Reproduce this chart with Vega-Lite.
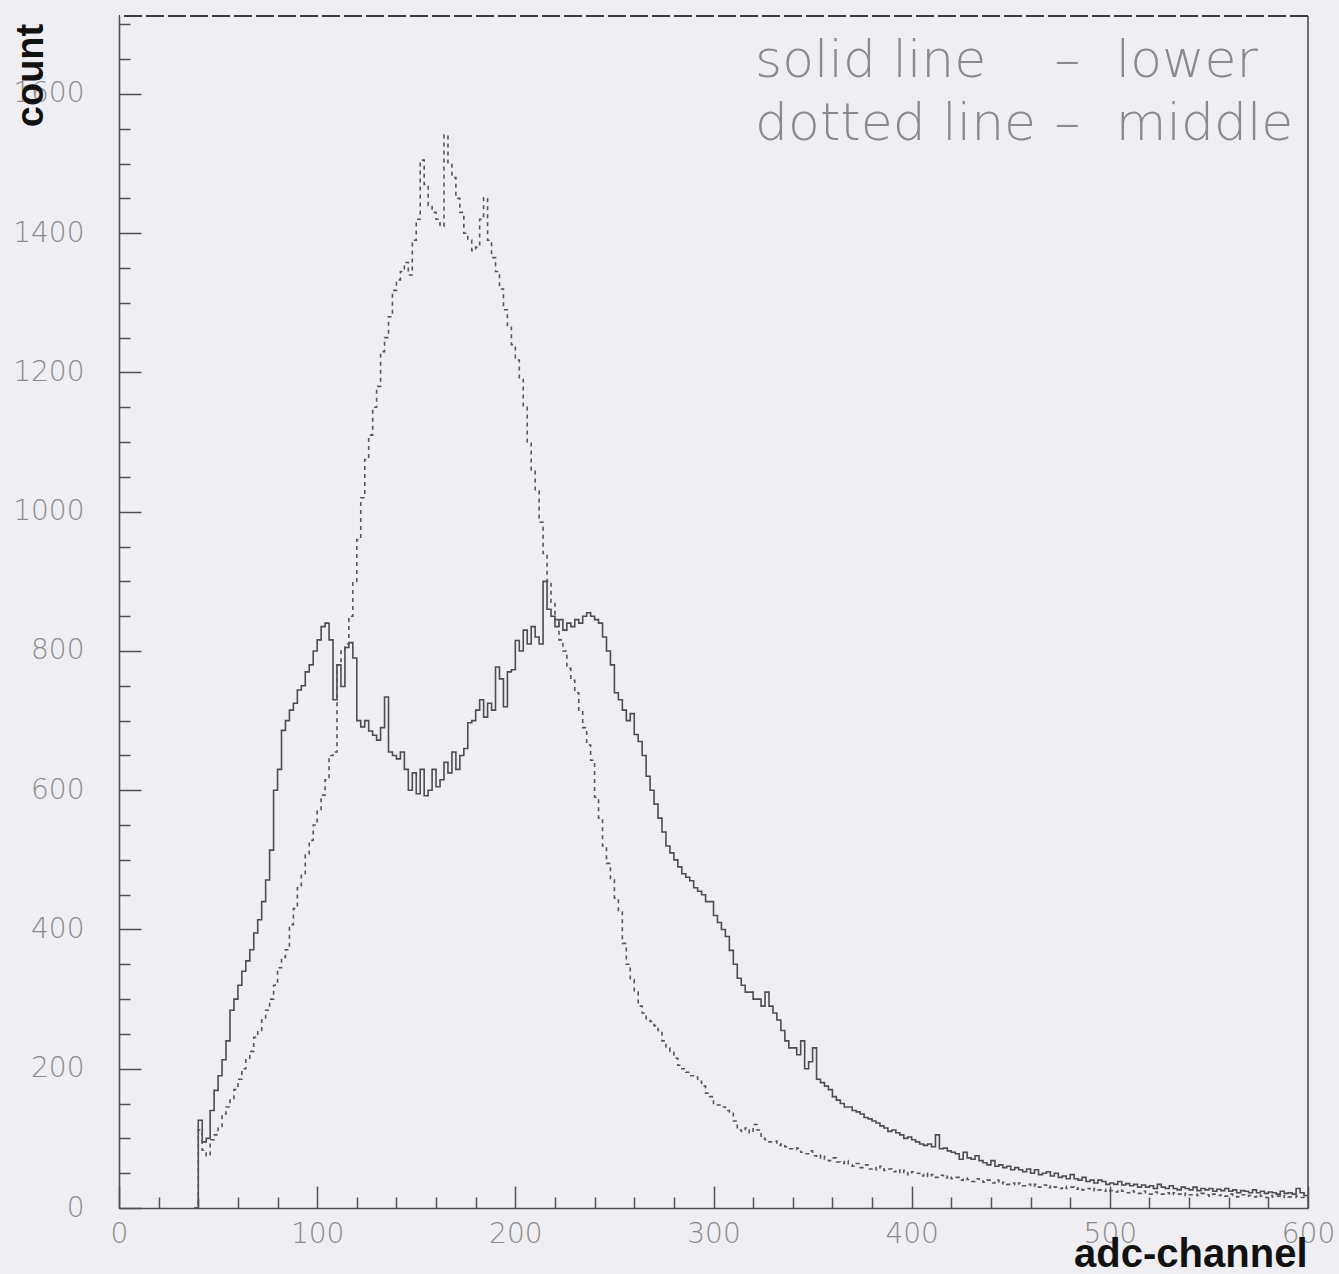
{
  "$schema": "https://vega.github.io/schema/vega-lite/v6.json",
  "width": 1189,
  "height": 1192,
  "autosize": "none",
  "padding": {"left": 119, "top": 16, "right": 31, "bottom": 66},
  "background": "#efeef3",
  "config": {
    "view": {"stroke": null},
    "axis": {
      "grid": false,
      "domainColor": "#505050",
      "domainWidth": 1.6,
      "tickColor": "#505050",
      "tickWidth": 1.5,
      "labelFont": "DejaVu Sans",
      "labelFontWeight": 200,
      "labelFontSize": 28,
      "labelColor": "#8a8a8a",
      "labelOverlap": false,
      "labelBound": false,
      "labelFlush": false,
      "titleFont": "Liberation Sans",
      "titleFontWeight": "bold",
      "titleColor": "#111111"
    }
  },
  "datasets": {
    "one": [{"k": 1}],
    "lower": [
      {"c":38,"n":0},{"c":40,"n":126},{"c":42,"n":95},{"c":44,"n":100},{"c":46,"n":140},{"c":48,"n":169},{"c":50,"n":190},{"c":52,"n":213},{"c":54,"n":240},{"c":56,"n":284},{"c":58,"n":300},{"c":60,"n":320},{"c":62,"n":340},{"c":64,"n":355},{"c":66,"n":371},{"c":68,"n":395},{"c":70,"n":414},{"c":72,"n":440},{"c":74,"n":471},{"c":76,"n":514},{"c":78,"n":600},{"c":80,"n":630},{"c":82,"n":686},{"c":84,"n":700},{"c":86,"n":715},{"c":88,"n":725},{"c":90,"n":744},{"c":92,"n":750},{"c":94,"n":770},{"c":96,"n":780},{"c":98,"n":800},{"c":100,"n":816},{"c":102,"n":835},{"c":104,"n":840},{"c":106,"n":816},{"c":108,"n":730},{"c":110,"n":780},{"c":112,"n":749},{"c":114,"n":805},{"c":116,"n":812},{"c":118,"n":790},{"c":120,"n":700},{"c":122,"n":691},{"c":124,"n":700},{"c":126,"n":685},{"c":128,"n":679},{"c":130,"n":672},{"c":132,"n":690},{"c":134,"n":734},{"c":136,"n":655},{"c":138,"n":650},{"c":140,"n":645},{"c":142,"n":655},{"c":144,"n":630},{"c":146,"n":600},{"c":148,"n":625},{"c":150,"n":595},{"c":152,"n":630},{"c":154,"n":592},{"c":156,"n":600},{"c":158,"n":630},{"c":160,"n":605},{"c":162,"n":615},{"c":164,"n":640},{"c":166,"n":625},{"c":168,"n":655},{"c":170,"n":630},{"c":172,"n":650},{"c":174,"n":660},{"c":176,"n":697},{"c":178,"n":700},{"c":180,"n":715},{"c":182,"n":730},{"c":184,"n":705},{"c":186,"n":725},{"c":188,"n":715},{"c":190,"n":777},{"c":192,"n":760},{"c":194,"n":720},{"c":196,"n":770},{"c":198,"n":773},{"c":200,"n":815},{"c":202,"n":800},{"c":204,"n":830},{"c":206,"n":810},{"c":208,"n":835},{"c":210,"n":820},{"c":212,"n":810},{"c":214,"n":900},{"c":216,"n":860},{"c":218,"n":850},{"c":220,"n":835},{"c":222,"n":845},{"c":224,"n":830},{"c":226,"n":840},{"c":228,"n":835},{"c":230,"n":845},{"c":232,"n":840},{"c":234,"n":850},{"c":236,"n":855},{"c":238,"n":850},{"c":240,"n":845},{"c":242,"n":840},{"c":244,"n":820},{"c":246,"n":800},{"c":248,"n":780},{"c":250,"n":740},{"c":252,"n":730},{"c":254,"n":715},{"c":256,"n":700},{"c":258,"n":710},{"c":260,"n":680},{"c":262,"n":670},{"c":264,"n":650},{"c":266,"n":620},{"c":268,"n":600},{"c":270,"n":580},{"c":272,"n":560},{"c":274,"n":540},{"c":276,"n":520},{"c":278,"n":510},{"c":280,"n":500},{"c":282,"n":490},{"c":284,"n":480},{"c":286,"n":475},{"c":288,"n":470},{"c":290,"n":460},{"c":292,"n":455},{"c":294,"n":450},{"c":296,"n":440},{"c":298,"n":440},{"c":300,"n":420},{"c":302,"n":410},{"c":304,"n":400},{"c":306,"n":390},{"c":308,"n":370},{"c":310,"n":350},{"c":312,"n":330},{"c":314,"n":320},{"c":316,"n":310},{"c":318,"n":310},{"c":320,"n":300},{"c":322,"n":300},{"c":324,"n":290},{"c":326,"n":310},{"c":328,"n":290},{"c":330,"n":280},{"c":332,"n":270},{"c":334,"n":255},{"c":336,"n":240},{"c":338,"n":230},{"c":340,"n":230},{"c":342,"n":220},{"c":344,"n":240},{"c":346,"n":200},{"c":348,"n":210},{"c":350,"n":230},{"c":352,"n":185},{"c":354,"n":180},{"c":356,"n":175},{"c":358,"n":170},{"c":360,"n":160},{"c":362,"n":155},{"c":364,"n":150},{"c":366,"n":145},{"c":368,"n":145},{"c":370,"n":140},{"c":372,"n":138},{"c":374,"n":135},{"c":376,"n":130},{"c":378,"n":128},{"c":380,"n":125},{"c":382,"n":122},{"c":384,"n":118},{"c":386,"n":115},{"c":388,"n":110},{"c":390,"n":112},{"c":392,"n":108},{"c":394,"n":105},{"c":396,"n":100},{"c":398,"n":102},{"c":400,"n":98},{"c":402,"n":95},{"c":404,"n":92},{"c":406,"n":90},{"c":408,"n":92},{"c":410,"n":88},{"c":412,"n":105},{"c":414,"n":85},{"c":416,"n":86},{"c":418,"n":82},{"c":420,"n":80},{"c":422,"n":78},{"c":424,"n":70},{"c":426,"n":80},{"c":428,"n":72},{"c":430,"n":70},{"c":432,"n":75},{"c":434,"n":68},{"c":436,"n":65},{"c":438,"n":62},{"c":440,"n":68},{"c":442,"n":60},{"c":444,"n":62},{"c":446,"n":58},{"c":448,"n":60},{"c":450,"n":55},{"c":452,"n":58},{"c":454,"n":55},{"c":456,"n":52},{"c":458,"n":56},{"c":460,"n":50},{"c":462,"n":55},{"c":464,"n":48},{"c":466,"n":50},{"c":468,"n":52},{"c":470,"n":46},{"c":472,"n":50},{"c":474,"n":44},{"c":476,"n":46},{"c":478,"n":42},{"c":480,"n":48},{"c":482,"n":42},{"c":484,"n":40},{"c":486,"n":44},{"c":488,"n":38},{"c":490,"n":40},{"c":492,"n":36},{"c":494,"n":40},{"c":496,"n":38},{"c":498,"n":34},{"c":500,"n":36},{"c":502,"n":34},{"c":504,"n":38},{"c":506,"n":33},{"c":508,"n":35},{"c":510,"n":32},{"c":512,"n":34},{"c":514,"n":30},{"c":516,"n":33},{"c":518,"n":30},{"c":520,"n":32},{"c":522,"n":28},{"c":524,"n":34},{"c":526,"n":30},{"c":528,"n":28},{"c":530,"n":32},{"c":532,"n":28},{"c":534,"n":26},{"c":536,"n":30},{"c":538,"n":28},{"c":540,"n":26},{"c":542,"n":30},{"c":544,"n":25},{"c":546,"n":28},{"c":548,"n":26},{"c":550,"n":28},{"c":552,"n":24},{"c":554,"n":27},{"c":556,"n":25},{"c":558,"n":28},{"c":560,"n":24},{"c":562,"n":26},{"c":564,"n":22},{"c":566,"n":25},{"c":568,"n":24},{"c":570,"n":22},{"c":572,"n":26},{"c":574,"n":22},{"c":576,"n":24},{"c":578,"n":21},{"c":580,"n":23},{"c":582,"n":22},{"c":584,"n":20},{"c":586,"n":24},{"c":588,"n":21},{"c":590,"n":22},{"c":592,"n":20},{"c":594,"n":28},{"c":596,"n":22},{"c":598,"n":18},{"c":600,"n":18}
    ],
    "middle": [
      {"c":38,"n":0},{"c":40,"n":112},{"c":42,"n":83},{"c":44,"n":75},{"c":46,"n":98},{"c":48,"n":105},{"c":50,"n":115},{"c":52,"n":135},{"c":54,"n":145},{"c":56,"n":155},{"c":58,"n":170},{"c":60,"n":185},{"c":62,"n":200},{"c":64,"n":213},{"c":66,"n":225},{"c":68,"n":245},{"c":70,"n":255},{"c":72,"n":270},{"c":74,"n":284},{"c":76,"n":300},{"c":78,"n":320},{"c":80,"n":345},{"c":82,"n":360},{"c":84,"n":371},{"c":86,"n":407},{"c":88,"n":430},{"c":90,"n":460},{"c":92,"n":480},{"c":94,"n":507},{"c":96,"n":528},{"c":98,"n":550},{"c":100,"n":570},{"c":102,"n":593},{"c":104,"n":615},{"c":106,"n":650},{"c":108,"n":655},{"c":110,"n":780},{"c":112,"n":800},{"c":114,"n":810},{"c":116,"n":850},{"c":118,"n":900},{"c":120,"n":960},{"c":122,"n":1020},{"c":124,"n":1075},{"c":126,"n":1110},{"c":128,"n":1150},{"c":130,"n":1180},{"c":132,"n":1230},{"c":134,"n":1250},{"c":136,"n":1280},{"c":138,"n":1318},{"c":140,"n":1333},{"c":142,"n":1345},{"c":144,"n":1358},{"c":146,"n":1340},{"c":148,"n":1390},{"c":150,"n":1420},{"c":152,"n":1505},{"c":154,"n":1470},{"c":156,"n":1440},{"c":158,"n":1430},{"c":160,"n":1420},{"c":162,"n":1410},{"c":164,"n":1541},{"c":166,"n":1500},{"c":168,"n":1480},{"c":170,"n":1450},{"c":172,"n":1430},{"c":174,"n":1400},{"c":176,"n":1390},{"c":178,"n":1375},{"c":180,"n":1380},{"c":182,"n":1420},{"c":184,"n":1451},{"c":186,"n":1390},{"c":188,"n":1365},{"c":190,"n":1345},{"c":192,"n":1320},{"c":194,"n":1290},{"c":196,"n":1265},{"c":198,"n":1240},{"c":200,"n":1218},{"c":202,"n":1190},{"c":204,"n":1150},{"c":206,"n":1100},{"c":208,"n":1060},{"c":210,"n":1030},{"c":212,"n":985},{"c":214,"n":940},{"c":216,"n":900},{"c":218,"n":870},{"c":220,"n":845},{"c":222,"n":816},{"c":224,"n":800},{"c":226,"n":775},{"c":228,"n":758},{"c":230,"n":740},{"c":232,"n":715},{"c":234,"n":690},{"c":236,"n":665},{"c":238,"n":643},{"c":240,"n":590},{"c":242,"n":560},{"c":244,"n":520},{"c":246,"n":495},{"c":248,"n":471},{"c":250,"n":445},{"c":252,"n":425},{"c":254,"n":380},{"c":256,"n":350},{"c":258,"n":328},{"c":260,"n":310},{"c":262,"n":290},{"c":264,"n":280},{"c":266,"n":272},{"c":268,"n":268},{"c":270,"n":262},{"c":272,"n":255},{"c":274,"n":240},{"c":276,"n":230},{"c":278,"n":225},{"c":280,"n":215},{"c":282,"n":205},{"c":284,"n":200},{"c":286,"n":195},{"c":288,"n":190},{"c":290,"n":188},{"c":292,"n":182},{"c":294,"n":175},{"c":296,"n":165},{"c":298,"n":160},{"c":300,"n":150},{"c":302,"n":148},{"c":304,"n":145},{"c":306,"n":140},{"c":308,"n":138},{"c":310,"n":125},{"c":312,"n":112},{"c":314,"n":110},{"c":316,"n":115},{"c":318,"n":108},{"c":320,"n":120},{"c":322,"n":112},{"c":324,"n":100},{"c":326,"n":98},{"c":328,"n":95},{"c":330,"n":96},{"c":332,"n":90},{"c":334,"n":92},{"c":336,"n":88},{"c":338,"n":85},{"c":340,"n":84},{"c":342,"n":86},{"c":344,"n":80},{"c":346,"n":78},{"c":348,"n":82},{"c":350,"n":75},{"c":352,"n":72},{"c":354,"n":76},{"c":356,"n":70},{"c":358,"n":68},{"c":360,"n":72},{"c":362,"n":66},{"c":364,"n":64},{"c":366,"n":68},{"c":368,"n":62},{"c":370,"n":60},{"c":372,"n":64},{"c":374,"n":58},{"c":376,"n":62},{"c":378,"n":56},{"c":380,"n":58},{"c":382,"n":55},{"c":384,"n":60},{"c":386,"n":54},{"c":388,"n":56},{"c":390,"n":52},{"c":392,"n":55},{"c":394,"n":50},{"c":396,"n":54},{"c":398,"n":48},{"c":400,"n":52},{"c":402,"n":50},{"c":404,"n":46},{"c":406,"n":50},{"c":408,"n":45},{"c":410,"n":48},{"c":412,"n":44},{"c":414,"n":47},{"c":416,"n":43},{"c":418,"n":46},{"c":420,"n":42},{"c":422,"n":44},{"c":424,"n":40},{"c":426,"n":43},{"c":428,"n":41},{"c":430,"n":38},{"c":432,"n":42},{"c":434,"n":39},{"c":436,"n":37},{"c":438,"n":40},{"c":440,"n":36},{"c":442,"n":40},{"c":444,"n":35},{"c":446,"n":37},{"c":448,"n":34},{"c":450,"n":36},{"c":452,"n":33},{"c":454,"n":36},{"c":456,"n":32},{"c":458,"n":34},{"c":460,"n":31},{"c":462,"n":34},{"c":464,"n":30},{"c":466,"n":33},{"c":468,"n":29},{"c":470,"n":32},{"c":472,"n":30},{"c":474,"n":28},{"c":476,"n":31},{"c":478,"n":28},{"c":480,"n":30},{"c":482,"n":27},{"c":484,"n":29},{"c":486,"n":26},{"c":488,"n":28},{"c":490,"n":25},{"c":492,"n":28},{"c":494,"n":26},{"c":496,"n":24},{"c":498,"n":27},{"c":500,"n":25},{"c":502,"n":23},{"c":504,"n":26},{"c":506,"n":24},{"c":508,"n":22},{"c":510,"n":25},{"c":512,"n":23},{"c":514,"n":21},{"c":516,"n":24},{"c":518,"n":22},{"c":520,"n":20},{"c":522,"n":23},{"c":524,"n":21},{"c":526,"n":20},{"c":528,"n":22},{"c":530,"n":19},{"c":532,"n":22},{"c":534,"n":20},{"c":536,"n":18},{"c":538,"n":21},{"c":540,"n":19},{"c":542,"n":20},{"c":544,"n":18},{"c":546,"n":21},{"c":548,"n":19},{"c":550,"n":17},{"c":552,"n":20},{"c":554,"n":18},{"c":556,"n":19},{"c":558,"n":17},{"c":560,"n":20},{"c":562,"n":18},{"c":564,"n":16},{"c":566,"n":19},{"c":568,"n":17},{"c":570,"n":18},{"c":572,"n":16},{"c":574,"n":19},{"c":576,"n":17},{"c":578,"n":15},{"c":580,"n":18},{"c":582,"n":16},{"c":584,"n":17},{"c":586,"n":15},{"c":588,"n":18},{"c":590,"n":16},{"c":592,"n":15},{"c":594,"n":17},{"c":596,"n":15},{"c":598,"n":14},{"c":600,"n":14}
    ]
  },
  "layer": [
    {
      "data": {"name": "lower"},
      "mark": {"type": "line", "interpolate": "step-after", "stroke": "#4d4d4d", "strokeWidth": 1.6, "clip": true},
      "encoding": {
        "x": {
          "field": "c", "type": "quantitative",
          "scale": {"domain": [0, 600], "nice": false, "zero": false},
          "axis": {
            "title": "adc-channel",
            "titleFontSize": 40,
            "titleAlign": "right",
            "titleAnchor": "end",
            "titleBaseline": "alphabetic",
            "titleX": 1188,
            "titleY": 58,
            "tickCount": 200,
            "values": [0,20,40,60,80,100,120,140,160,180,200,220,240,260,280,300,320,340,360,380,400,420,440,460,480,500,520,540,560,580,600],
            "format": "d",
            "labelExpr": "datum.value % 100 === 0 ? datum.label : ''",
            "tickSize": {"condition": {"test": "datum.value % 100 === 0", "value": -22}, "value": -11},
            "labelPadding": 34
          }
        },
        "y": {
          "field": "n", "type": "quantitative",
          "scale": {"domain": [0, 1712], "nice": false, "zero": true},
          "axis": {
            "title": "count",
            "titleFontSize": 38,
            "titleAngle": -90,
            "titleAlign": "center",
            "titleBaseline": "alphabetic",
            "titleX": -77,
            "titleY": 59,
            "tickCount": 200,
            "values": [0,50,100,150,200,250,300,350,400,450,500,550,600,650,700,750,800,850,900,950,1000,1050,1100,1150,1200,1250,1300,1350,1400,1450,1500,1550,1600,1650,1700],
            "format": "d",
            "labelExpr": "datum.value % 200 === 0 ? datum.label : ''",
            "tickSize": {"condition": {"test": "datum.value % 200 === 0", "value": -22}, "value": -11},
            "labelPadding": 57
          }
        }
      }
    },
    {
      "data": {"name": "middle"},
      "mark": {"type": "line", "interpolate": "step-after", "stroke": "#555555", "strokeWidth": 1.6, "strokeDash": [4, 4], "clip": true},
      "encoding": {
        "x": {"field": "c", "type": "quantitative"},
        "y": {"field": "n", "type": "quantitative"}
      }
    },
    {
      "data": {"name": "one"},
      "mark": {"type": "rule", "stroke": "#505050", "strokeWidth": 1.6},
      "encoding": {"x": {"datum": 600}}
    },
    {
      "data": {"name": "one"},
      "mark": {"type": "rule", "stroke": "#3a3a3a", "strokeWidth": 2, "strokeDash": [18, 4]},
      "encoding": {"y": {"datum": 1712}}
    },
    {
      "data": {"name": "one"},
      "mark": {"type": "text", "align": "left", "baseline": "alphabetic", "font": "DejaVu Sans", "fontWeight": 200, "fontSize": 52, "fill": "#8a8a8a"},
      "encoding": {"x": {"datum": 321}, "y": {"datum": 1625}, "text": {"value": "solid line"}}
    },
    {
      "data": {"name": "one"},
      "mark": {"type": "text", "align": "left", "baseline": "alphabetic", "font": "DejaVu Sans", "fontWeight": 200, "fontSize": 52, "fill": "#8a8a8a"},
      "encoding": {"x": {"datum": 321}, "y": {"datum": 1534}, "text": {"value": "dotted line"}}
    },
    {
      "data": {"name": "one"},
      "mark": {"type": "text", "align": "left", "baseline": "alphabetic", "font": "DejaVu Sans", "fontWeight": 200, "fontSize": 52, "fill": "#8a8a8a"},
      "encoding": {"x": {"datum": 472}, "y": {"datum": 1625}, "text": {"value": "–"}}
    },
    {
      "data": {"name": "one"},
      "mark": {"type": "text", "align": "left", "baseline": "alphabetic", "font": "DejaVu Sans", "fontWeight": 200, "fontSize": 52, "fill": "#8a8a8a"},
      "encoding": {"x": {"datum": 472}, "y": {"datum": 1534}, "text": {"value": "–"}}
    },
    {
      "data": {"name": "one"},
      "mark": {"type": "text", "align": "left", "baseline": "alphabetic", "font": "DejaVu Sans", "fontWeight": 200, "fontSize": 52, "fill": "#8a8a8a"},
      "encoding": {"x": {"datum": 503}, "y": {"datum": 1625}, "text": {"value": "lower"}}
    },
    {
      "data": {"name": "one"},
      "mark": {"type": "text", "align": "left", "baseline": "alphabetic", "font": "DejaVu Sans", "fontWeight": 200, "fontSize": 52, "fill": "#8a8a8a"},
      "encoding": {"x": {"datum": 503}, "y": {"datum": 1534}, "text": {"value": "middle"}}
    }
  ]
}
